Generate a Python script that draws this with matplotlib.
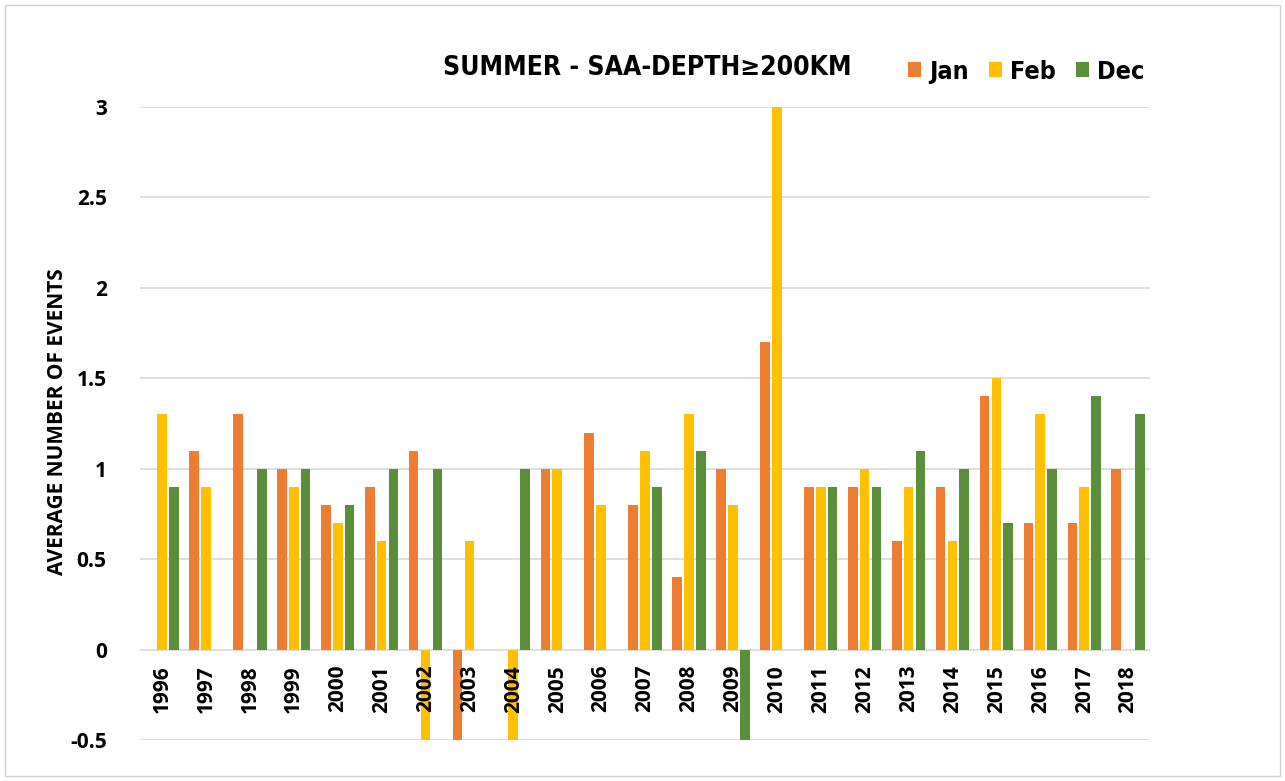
from matplotlib import pyplot as plt
from matplotlib.patches import Rectangle
import numpy as np

years = [str(y) for y in range(1996, 2019)]
jan = [0, 1.1, 1.3, 1.0, 0.8, 0.9, 1.1, -0.5, 0, 1.0, 1.2, 0.8, 0.4, 1.0, 1.7, 0.9, 0.9, 0.6, 0.9, 1.4, 0.7, 0.7, 1.0]
feb = [1.3, 0.9, 0, 0.9, 0.7, 0.6, -0.5, 0.6, -0.5, 1.0, 0.8, 1.1, 1.3, 0.8, 3.0, 0.9, 1.0, 0.9, 0.6, 1.5, 1.3, 0.9, 0]
dec = [0.9, 0, 1.0, 1.0, 0.8, 1.0, 1.0, 0, 1.0, 0, 0, 0.9, 1.1, -0.5, 0, 0.9, 0.9, 1.1, 1.0, 0.7, 1.0, 1.4, 1.3]
yticks = [-0.5, 0, 0.5, 1, 1.5, 2, 2.5, 3]

fig = plt.figure(figsize=(12.85, 7.81), dpi=100)
ax = fig.add_axes([0.109, 0.0525, 0.786, 0.8105])

x = np.arange(len(years))
off = 0.27
w = 0.22
ax.bar(x - off, jan, w, color='#ED7D31', label='Jan', zorder=3)
ax.bar(x, feb, w, color='#FFC000', label='Feb', zorder=3)
ax.bar(x + off, dec, w, color='#5B8E3A', label='Dec', zorder=3)

ax.set_xlim(-0.5, len(years) - 0.5)
ax.set_ylim(-0.5, 3)
ax.set_yticks(yticks)
ax.set_yticklabels([f'{v:g}' for v in yticks], fontsize=15, fontweight='bold', family='Open Sans')
ax.tick_params(axis='y', length=0, pad=24)
ax.set_xticks([])
ax.grid(axis='y', color='#d9d9d9', linewidth=1.2, zorder=0)
for s in ax.spines.values():
    s.set_visible(False)

for i, yr in enumerate(years):
    ax.text(i, -0.085, yr, rotation=90, ha='center', va='top', fontsize=15,
            fontweight='bold', family='Open Sans', zorder=5)

fig.text(0.045, 0.46, 'AVERAGE NUMBER OF EVENTS', rotation=90, ha='center', va='center',
         fontsize=15, fontweight='bold', family='Open Sans')

fig.text(0.5035, 0.913, 'SUMMER - SAA-DEPTH\u2265200KM', ha='center', va='center',
         fontsize=19, fontweight='bold', family='DejaVu Sans', stretch='condensed')
ax.legend(loc='center left', bbox_to_anchor=(0.760, 1.056), ncol=3, frameon=False,
          prop={'family': 'DejaVu Sans', 'stretch': 'condensed', 'weight': 'bold', 'size': 18},
          handlelength=0.55, handleheight=0.55, handletextpad=0.3, columnspacing=0.8,
          borderpad=0, borderaxespad=0)

fig.patches.append(Rectangle((0.004, 0.006), 0.992, 0.988, transform=fig.transFigure,
                             fill=False, edgecolor='#d0d0d0', linewidth=1))

fig.savefig('out.png', dpi=100)
